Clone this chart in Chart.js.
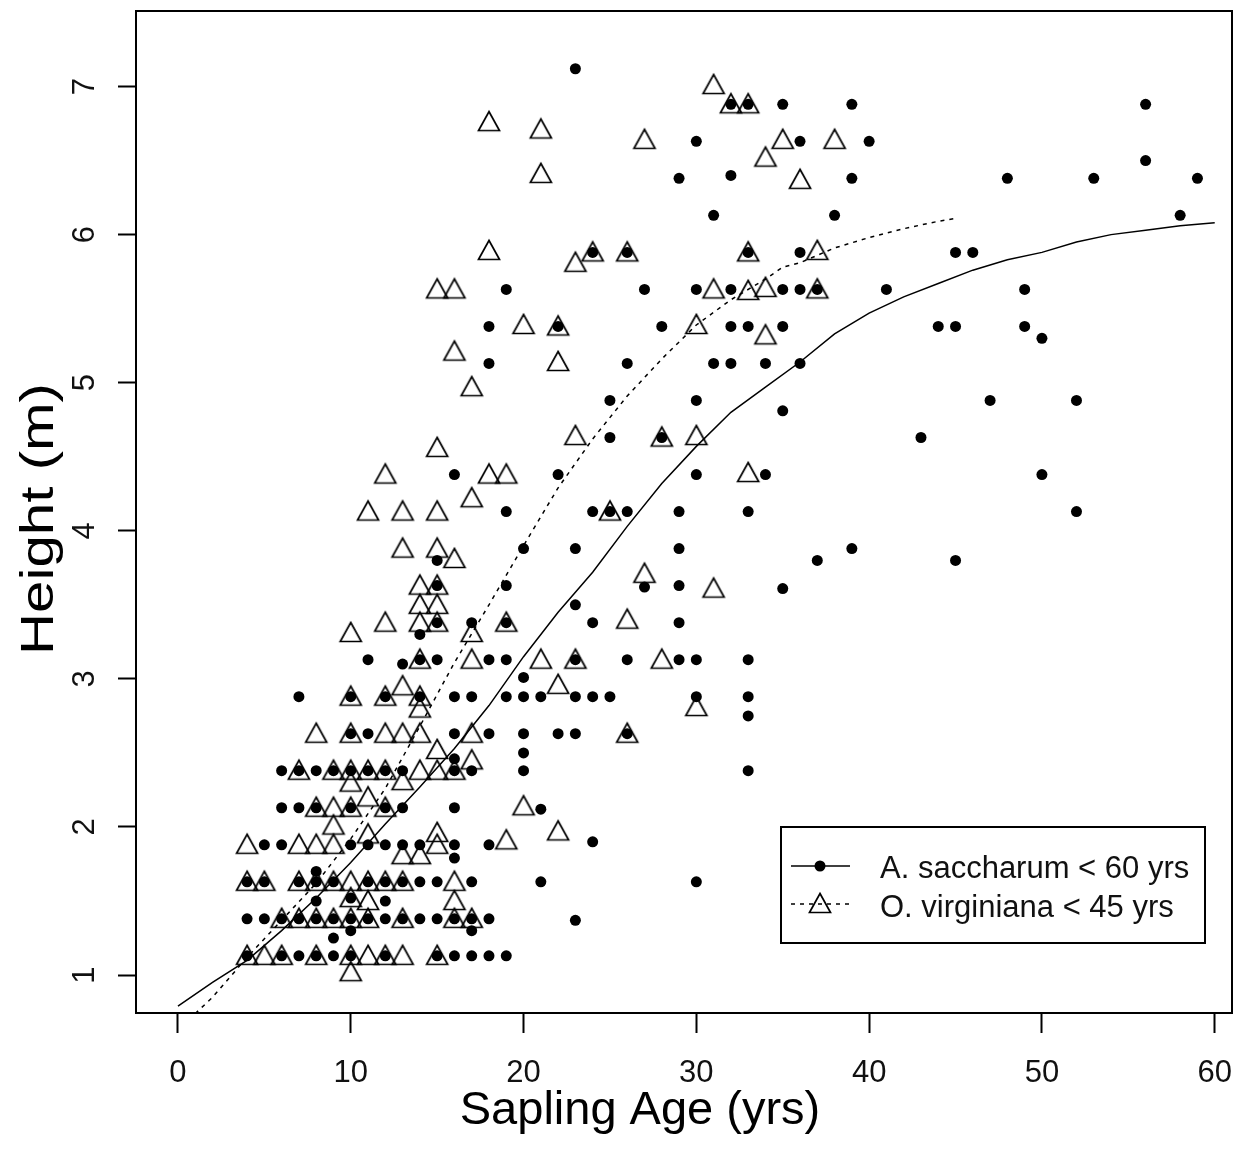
<!DOCTYPE html>
<html>
<head>
<meta charset="utf-8">
<script src="https://cdn.jsdelivr.net/npm/chart.js@4.4.0/dist/chart.umd.min.js"></script>
<style>
  html, body { margin: 0; padding: 0; background: #fff; }
  #wrap { width: 1245px; height: 1149px; position: relative; }
</style>
</head>
<body>
<div id="wrap"><canvas id="chart" width="1245" height="1149"></canvas></div>
<script>
// Sapling height against age for two species, with smoothed trend lines.

// A. saccharum observations (age in years, height in m)
const saccharumAge = [
  4,6,7,8,9,10,12,15,16,17,18,19,
  4,5,6,7,8,9,10,11,12,13,14,15,16,17,18,23,
  9,10,17,8,12,10,8,
  4,5,7,8,9,11,12,13,14,15,17,21,30,
  5,6,10,11,12,13,14,16,18,24,16,
  6,7,8,10,12,13,16,21,
  6,7,8,9,10,11,12,13,16,17,20,33,16,20,
  10,11,16,18,20,22,23,26,
  7,10,12,14,16,17,19,20,21,23,24,25,30,33,33,20,
  11,14,15,18,19,23,26,29,30,33,13,
  15,17,19,24,29,14,23,
  15,19,27,29,35,
  20,23,29,39,15,37,45,
  19,24,25,26,29,33,52,
  16,22,30,34,50,
  25,28,43,
  25,30,47,52,35,
  18,26,31,32,34,36,50,
  18,22,28,32,33,35,44,45,49,
  19,27,30,32,35,36,37,41,49,
  24,26,33,36,45,46,
  31,38,58,
  29,39,48,53,59,32,56,
  30,36,40,
  32,33,35,39,56,
  23
];
const saccharumHeight = [
  1.13,1.13,1.13,1.13,1.13,1.13,1.13,1.13,1.13,1.13,1.13,1.13,
  1.38,1.38,1.38,1.38,1.38,1.38,1.38,1.38,1.38,1.38,1.38,1.38,1.38,1.38,1.38,1.37,
  1.25,1.30,1.30,1.50,1.50,1.52,1.70,
  1.63,1.63,1.63,1.63,1.63,1.63,1.63,1.63,1.63,1.63,1.63,1.63,1.63,
  1.88,1.88,1.88,1.88,1.88,1.88,1.88,1.88,1.88,1.90,1.79,
  2.13,2.13,2.13,2.13,2.13,2.13,2.13,2.12,
  2.38,2.38,2.38,2.38,2.38,2.38,2.38,2.38,2.38,2.38,2.38,2.38,2.46,2.50,
  2.63,2.63,2.63,2.63,2.63,2.63,2.63,2.63,
  2.88,2.88,2.88,2.88,2.88,2.88,2.88,2.88,2.88,2.88,2.88,2.88,2.88,2.88,2.75,3.01,
  3.13,3.13,3.13,3.13,3.13,3.13,3.13,3.13,3.13,3.13,3.10,
  3.38,3.38,3.38,3.38,3.38,3.30,3.50,
  3.63,3.63,3.62,3.63,3.61,
  3.88,3.88,3.88,3.88,3.80,3.80,3.80,
  4.13,4.13,4.13,4.13,4.13,4.13,4.13,
  4.38,4.38,4.38,4.38,4.38,
  4.63,4.63,4.63,
  4.88,4.88,4.88,4.88,4.81,
  5.13,5.13,5.13,5.13,5.13,5.13,5.30,
  5.38,5.38,5.38,5.38,5.38,5.38,5.38,5.38,5.38,
  5.63,5.63,5.63,5.63,5.63,5.63,5.63,5.63,5.63,
  5.88,5.88,5.88,5.88,5.88,5.88,
  6.13,6.13,6.13,
  6.38,6.38,6.38,6.38,6.38,6.40,6.50,
  6.63,6.63,6.63,
  6.88,6.88,6.88,6.88,6.88,
  7.12
];

// O. virginiana observations (age in years, height in m)
const virginianaAge = [
  10,
  4,5,6,8,10,11,12,13,15,
  6,7,8,9,10,11,13,16,17,
  11,16,10,
  4,5,7,8,9,10,11,12,13,16,
  4,7,8,9,15,13,14,15,19,22,9,11,
  8,9,10,12,20,11,10,
  7,9,10,11,12,14,15,16,13,15,17,
  8,10,12,13,14,17,26,
  10,12,14,13,14,22,30,
  14,17,21,23,28,
  12,14,15,19,10,17,26,
  14,15,
  14,15,27,31,
  13,15,16,
  11,13,15,25,17,
  12,18,19,33,
  15,23,28,30,
  17,
  16,22,
  20,22,30,34,
  15,16,31,33,34,37,
  18,23,24,26,33,37,
  21,36,
  27,35,38,34,
  18,21,32,33,31
];
const virginianaHeight = [
  1.02,
  1.13,1.13,1.13,1.13,1.13,1.13,1.13,1.13,1.13,
  1.38,1.38,1.38,1.38,1.38,1.38,1.38,1.38,1.38,
  1.50,1.50,1.52,
  1.63,1.63,1.63,1.63,1.63,1.63,1.63,1.63,1.63,1.63,
  1.88,1.88,1.88,1.88,1.88,1.81,1.81,1.96,1.91,1.97,2.01,1.95,
  2.13,2.13,2.13,2.13,2.14,2.20,2.30,
  2.38,2.38,2.38,2.38,2.38,2.38,2.38,2.38,2.31,2.52,2.45,
  2.63,2.63,2.63,2.63,2.63,2.63,2.63,
  2.88,2.88,2.88,2.95,2.80,2.96,2.81,
  3.13,3.13,3.13,3.13,3.13,
  3.38,3.38,3.38,3.38,3.31,3.31,3.40,
  3.50,3.50,
  3.63,3.63,3.71,3.61,
  3.88,3.88,3.81,
  4.13,4.13,4.13,4.13,4.22,
  4.38,4.38,4.38,4.39,
  4.56,4.64,4.63,4.64,
  4.97,
  5.21,5.14,
  5.39,5.38,5.39,5.32,
  5.63,5.63,5.63,5.62,5.64,5.63,
  5.89,5.81,5.88,5.88,5.88,5.89,
  6.41,6.37,
  6.64,6.64,6.64,6.52,
  6.76,6.71,6.88,6.88,7.01
];

// Smoothed trend for A. saccharum
const saccharumFitAge = [0,2,4,6,8,10,12,14,16,18,20,22,24,26,28,30,32,34,36,38,40,42,44,46,48,50,52,54,56,58,60];
const saccharumFitHeight = [0.79,0.95,1.10,1.30,1.52,1.76,2.02,2.27,2.53,2.82,3.15,3.45,3.72,4.03,4.32,4.57,4.80,4.97,5.14,5.33,5.47,5.58,5.67,5.76,5.83,5.88,5.95,6.00,6.03,6.06,6.08];

// Smoothed trend for O. virginiana
const virginianaFitAge = [1,2,4,6,8,10,12,14,16,18,20,22,24,26,28,30,32,34,35,36,38,40,42,44,45];
const virginianaFitHeight = [0.74,0.85,1.12,1.37,1.62,1.92,2.26,2.68,3.11,3.50,3.90,4.29,4.62,4.91,5.16,5.39,5.56,5.70,5.78,5.81,5.91,5.98,6.04,6.09,6.11];

// Axis ticks and legend labels
const xTicks = [0,10,20,30,40,50,60];
const yTicks = [1,2,3,4,5,6,7];
const seriesLabels = ['A. saccharum < 60 yrs', 'O. virginiana < 45 yrs'];
const xTitle = 'Sapling Age (yrs)';
const yTitle = 'Height (m)';

const FONT = '"Liberation Sans", Arial, Helvetica, sans-serif';

function toPoints(xs, ys) {
  return xs.map((x, i) => ({ x: x, y: ys[i] }));
}

// Open triangle marker (centre slightly above the base, like pch 2)
function makeTriangle() {
  const c = document.createElement('canvas');
  c.width = 26; c.height = 26;
  const g = c.getContext('2d');
  g.strokeStyle = '#000';
  g.lineWidth = 1.7;
  g.beginPath();
  g.moveTo(13, 2.5);
  g.lineTo(23.5, 21.5);
  g.lineTo(2.5, 21.5);
  g.closePath();
  g.stroke();
  return c;
}
const triangleMark = makeTriangle();

// Frame around the plotting region
const framePlugin = {
  id: 'frame',
  afterDatasetsDraw(chart) {
    const { ctx, chartArea: a } = chart;
    ctx.save();
    ctx.strokeStyle = '#000';
    ctx.lineWidth = 2;
    ctx.strokeRect(a.left - 1, a.top, a.right - a.left + 1, a.bottom - a.top);
    ctx.restore();
  }
};

// Rotated y tick labels and both axis titles
const textPlugin = {
  id: 'axisText',
  afterDraw(chart) {
    const { ctx } = chart;
    const ys = chart.scales.y;
    ctx.save();
    ctx.fillStyle = '#111';
    ctx.font = '31px ' + FONT;
    ctx.textAlign = 'center';
    ctx.textBaseline = 'alphabetic';
    ys.ticks.forEach(t => {
      const py = ys.getPixelForValue(t.value);
      ctx.save();
      ctx.translate(94, py);
      ctx.rotate(-Math.PI / 2);
      ctx.fillText(String(t.value), 0, 0);
      ctx.restore();
    });
    ctx.fillStyle = '#000';
    ctx.font = '47px ' + FONT;
    ctx.fillText(xTitle, 640, 1124);
    ctx.save();
    ctx.translate(53, 519);
    ctx.rotate(-Math.PI / 2);
    ctx.scale(1.24, 1);
    ctx.fillText(yTitle, 0, 0);
    ctx.restore();
    ctx.restore();
  }
};

// Legend box with line and marker samples
const legendPlugin = {
  id: 'boxLegend',
  afterDraw(chart) {
    const { ctx } = chart;
    const box = { left: 781, top: 827, right: 1205, bottom: 943 };
    ctx.save();
    ctx.fillStyle = '#fff';
    ctx.fillRect(box.left, box.top, box.right - box.left, box.bottom - box.top);
    ctx.strokeStyle = '#000';
    ctx.lineWidth = 2;
    ctx.strokeRect(box.left, box.top, box.right - box.left, box.bottom - box.top);
    const rows = [866, 904];
    // solid line + filled circle
    ctx.lineWidth = 1.4;
    ctx.beginPath(); ctx.moveTo(791, rows[0]); ctx.lineTo(850, rows[0]); ctx.stroke();
    ctx.fillStyle = '#000';
    ctx.beginPath(); ctx.arc(820, rows[0], 5.5, 0, Math.PI * 2); ctx.fill();
    // dotted line + open triangle
    ctx.setLineDash([4, 5]);
    ctx.beginPath(); ctx.moveTo(791, rows[1]); ctx.lineTo(850, rows[1]); ctx.stroke();
    ctx.setLineDash([]);
    ctx.drawImage(triangleMark, 820 - 13, rows[1] - 13);
    ctx.fillStyle = '#111';
    ctx.font = '31px ' + FONT;
    ctx.textAlign = 'left';
    ctx.textBaseline = 'middle';
    ctx.fillText(seriesLabels[0], 880, rows[0] + 3);
    ctx.fillText(seriesLabels[1], 880, rows[1] + 4);
    ctx.restore();
  }
};

const ctx = document.getElementById('chart').getContext('2d');
new Chart(ctx, {
  type: 'scatter',
  data: {
    datasets: [
      {
        label: seriesLabels[0],
        data: toPoints(saccharumAge, saccharumHeight),
        pointStyle: 'circle',
        pointRadius: 5.5,
        pointBackgroundColor: '#000',
        pointBorderColor: '#000',
        pointBorderWidth: 0,
        order: 3
      },
      {
        label: seriesLabels[1],
        data: toPoints(virginianaAge, virginianaHeight),
        pointStyle: triangleMark,
        pointRadius: 10,
        order: 2
      },
      {
        label: seriesLabels[0] + ' trend',
        type: 'line',
        data: toPoints(saccharumFitAge, saccharumFitHeight),
        borderColor: '#000',
        borderWidth: 1.5,
        pointRadius: 0,
        tension: 0,
        fill: false,
        order: 1
      },
      {
        label: seriesLabels[1] + ' trend',
        type: 'line',
        data: toPoints(virginianaFitAge, virginianaFitHeight),
        borderColor: '#000',
        borderWidth: 1.5,
        borderDash: [4, 5],
        pointRadius: 0,
        tension: 0,
        fill: false,
        order: 1
      }
    ]
  },
  options: {
    responsive: false,
    animation: false,
    events: [],
    layout: { padding: { top: 8, right: 13, left: 0, bottom: 0 } },
    plugins: { legend: { display: false }, tooltip: { enabled: false } },
    scales: {
      x: {
        type: 'linear',
        min: -2.37,
        max: 61.0,
        afterBuildTicks: s => { s.ticks = xTicks.map(v => ({ value: v })); },
        afterFit: s => { s.height = 136; s.paddingLeft = 0; s.paddingRight = 0; },
        ticks: {
          color: '#111',
          font: { family: FONT, size: 31 },
          padding: 22,
          maxRotation: 0,
          minRotation: 0
        },
        grid: { drawOnChartArea: false, drawTicks: true, tickLength: 20, tickWidth: 2, tickColor: '#000' },
        border: { display: false }
      },
      y: {
        type: 'linear',
        min: 0.744,
        max: 7.51,
        afterBuildTicks: s => { s.ticks = yTicks.map(v => ({ value: v })); },
        afterFit: s => { s.width = 137; s.paddingTop = 0; s.paddingBottom = 0; },
        ticks: { display: false },
        grid: { drawOnChartArea: false, drawTicks: true, tickLength: 19, tickWidth: 2, tickColor: '#000' },
        border: { display: false }
      }
    }
  },
  plugins: [framePlugin, textPlugin, legendPlugin]
});
</script>
</body>
</html>
